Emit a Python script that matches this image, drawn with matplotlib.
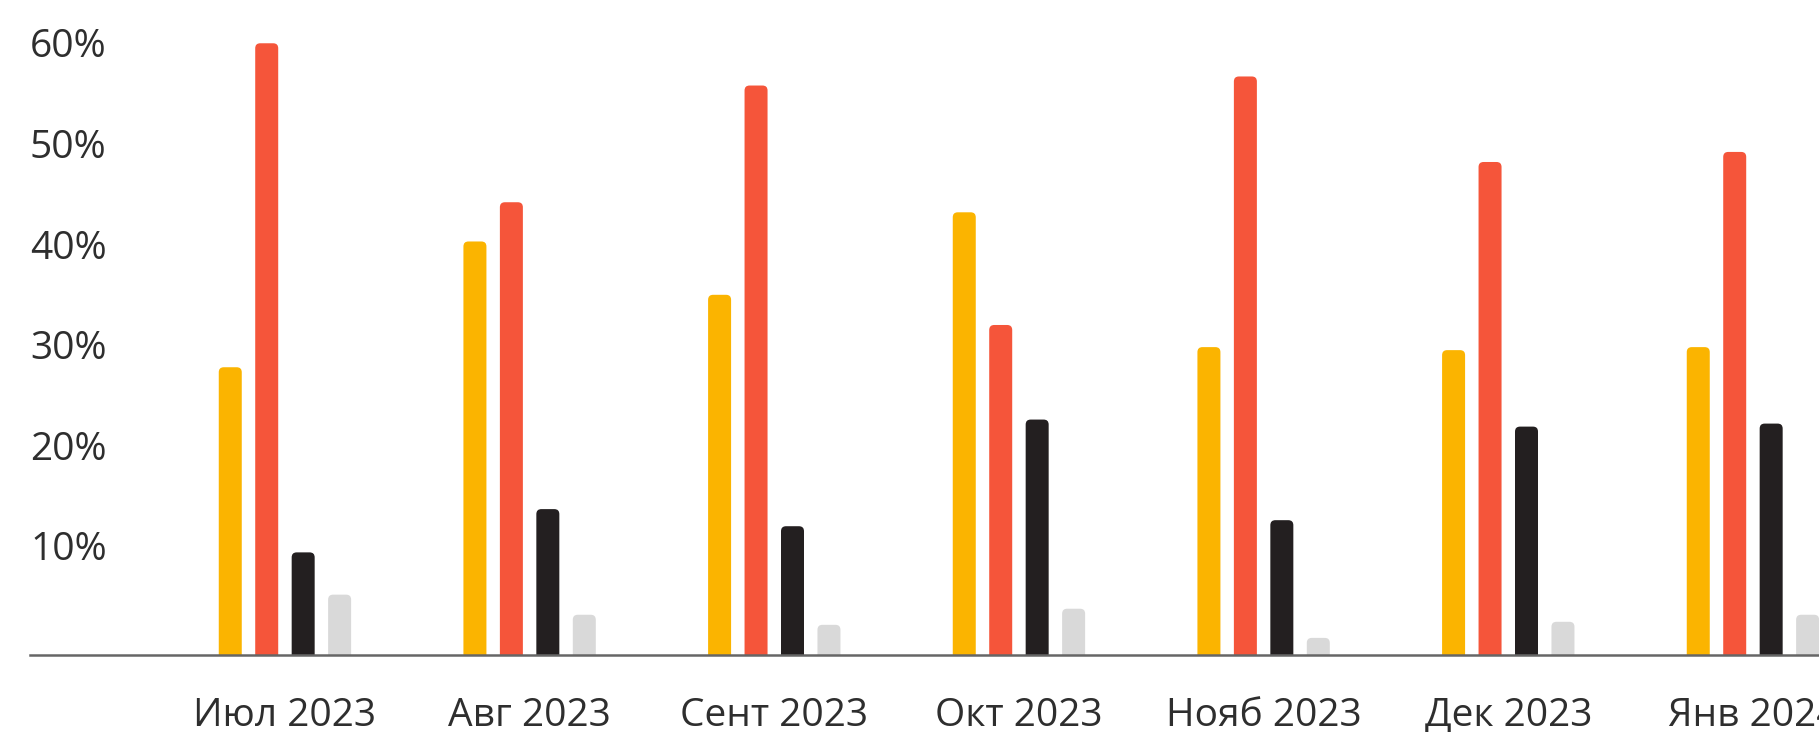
import numpy as np
import matplotlib.pyplot as plt
from matplotlib.patches import FancyBboxPatch
from matplotlib.transforms import ScaledTranslation, blended_transform_factory

# Доли по месяцам, %
months = ['Июл 2023', 'Авг 2023', 'Сент 2023', 'Окт 2023', 'Нояб 2023', 'Дек 2023', 'Янв 2024']
yellow = [28.6, 41.1, 35.8, 44.0, 30.6, 30.3, 30.6]
red = [60.8, 45.0, 56.6, 32.8, 57.5, 49.0, 50.0]
black = [10.2, 14.5, 12.8, 23.4, 13.4, 22.7, 23.0]
grey = [6.0, 4.0, 3.0, 4.6, 1.7, 3.3, 4.0]
yticks = [10, 20, 30, 40, 50, 60]

colors = ['#FBB400', '#F5553A', '#231F20', '#D9D9D9']
text_color = '#2E2E2E'

plt.rcParams['font.family'] = ['Open Sans', 'DejaVu Sans']

W, H = 1819, 732
fig = plt.figure(figsize=(W / 100, H / 100), dpi=100)
ax = fig.add_axes([30 / W, 77 / H, 1 - 30 / W, (H - 77) / H])
ax.set_xlim(-1.042, 6.27)
ax.set_ylim(0, 65.1)

# размеры пикселя в единицах данных (для скругления верхних углов)
x_per_px = (6.27 + 1.042) / (W - 30)
y_per_px = 65.1 / (H - 77)
aspect = y_per_px / x_per_px
r_x = 5 * x_per_px
r_y = r_x * aspect

x = np.arange(len(months))
step = 0.149
width = 0.094
for i, (vals, c) in enumerate(zip([yellow, red, black, grey], colors)):
    bars = ax.bar(x + (i - 1.5) * step, vals, width, color=c)
    for b in bars:
        bx, bw, bh = b.get_x(), b.get_width(), b.get_height()
        b.remove()
        ax.add_patch(FancyBboxPatch((bx, -r_y), bw, bh + r_y,
                                    boxstyle=f'round,pad=0,rounding_size={r_x}',
                                    mutation_aspect=aspect, facecolor=c,
                                    edgecolor='none', zorder=2))

# подписи оси Y внутри области графика
trans = blended_transform_factory(ax.transAxes, ax.transData) + \
    ScaledTranslation(0, 0.04, fig.dpi_scale_trans)
for v in yticks:
    ax.text(0, v, f'{v}%', transform=trans, ha='left', va='center',
            fontsize=28, color=text_color)

ax.set_xticks(x)
ax.set_xticklabels(months, fontsize=28, color=text_color)
ax.tick_params(axis='x', length=0, pad=30)
ax.set_yticks([])

for side in ['top', 'right', 'left']:
    ax.spines[side].set_visible(False)
ax.spines['bottom'].set_color('#666666')
ax.spines['bottom'].set_linewidth(1.8)
ax.spines['bottom'].set_zorder(3)

fig.savefig('out.png', dpi=100, facecolor='white')
